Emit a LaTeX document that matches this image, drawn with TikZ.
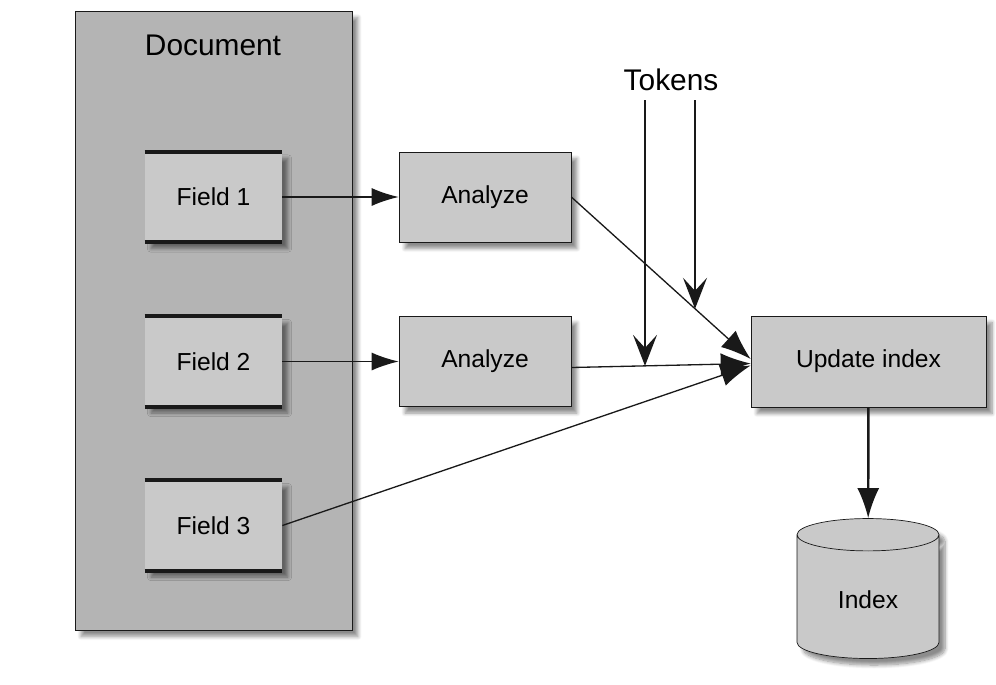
\documentclass[tikz,border=0pt]{standalone}
\usepackage{fontspec}
\setmainfont{Liberation Sans}
\usetikzlibrary{arrows.meta,shapes.geometric,shadows.blur}
\definecolor{docgray}{RGB}{180,180,180}
\definecolor{boxgray}{RGB}{201,201,201}
\definecolor{linegray}{RGB}{25,25,25}
\begin{document}
\begin{tikzpicture}[x=0.02cm, y=-0.02cm,
	shade/.style={blur shadow={shadow blur steps=8, shadow xshift=1.2mm, shadow yshift=-1.3mm, shadow opacity=45}},
	fieldbox/.style={fill=boxgray, minimum width=2.74cm, minimum height=1.8cm, inner sep=0pt, font=\fontsize{14}{16}\selectfont, shade},
	stepbox/.style={draw=linegray, fill=boxgray, minimum height=1.8cm, inner sep=0pt, font=\fontsize{14}{16}\selectfont, shade},
	conn/.style={linegray, line width=0.75pt},
	tip/.style={-{Latex[length=5.4mm, width=3.6mm]}},
	bigtip/.style={-{Latex[length=6mm, width=4.4mm]}},
	tokentip/.style={-{Stealth[length=6.2mm, width=4.8mm, inset=2.6mm]}}]
	\useasboundingbox (0,0) rectangle (996,684);
	
	%document
	\node (doc) at (213.5,320.5) [draw=linegray, fill=docgray, minimum width=5.54cm, minimum height=12.38cm, shade]{};
	\node (doclabel) at (213,45) {\fontsize{17}{20}\selectfont Document};
	
	%fields
	\node (f1) at (213.5,197) [fieldbox]{Field 1};
	\node (f2) at (213.5,361.5) [fieldbox]{Field 2};
	\node (f3) at (213.5,525.5) [fieldbox]{Field 3};
	\foreach \f in {f1, f2, f3}{
		\draw[line width=2.2pt, linegray] (\f.north west)--(\f.north east);
		\draw[line width=2.2pt, linegray] (\f.south west)--(\f.south east);
	}
	
	%steps
	\node (a1) at (485,197) [stepbox, minimum width=3.44cm]{Analyze};
	\node (a2) at (485,361.5) [stepbox, minimum width=3.44cm]{Analyze};
	\node (upd) at (868.5,361.5) [stepbox, minimum width=4.7cm, minimum height=1.82cm]{Update index};
	\node (idx) at (868,600) [cylinder, shape border rotate=90, aspect=0.45, draw=linegray, fill=boxgray, minimum width=2.84cm, minimum height=2.8cm, font=\fontsize{14}{16}\selectfont, shade]{Index};
	
	%tokens
	\node (tok) at (671,80) {\fontsize{17}{20}\selectfont Tokens};
	\coordinate (tk1) at (645,100);
	\coordinate (tk2) at (695,100);
	
	\draw[conn, tip] (f1) -- (a1);
	\draw[conn, tip] (f2) -- (a2);
	\draw[conn, bigtip] (a1.east |- 0,197) -- coordinate[pos=0.69] (hit2) ([yshift=0.05cm]upd.west);
	\draw[conn, bigtip] ([yshift=-0.12cm]a2.east) -- coordinate[pos=0.41] (hit1) ([yshift=-0.04cm]upd.west);
	\draw[conn, bigtip] (f3.east) -- ([yshift=-0.08cm]upd.west);
	\draw[conn, tokentip] (tk1) -- (tk1 |- hit1);
	\draw[conn, tokentip] (tk2) -- (tk2 |- hit2);
	\draw[linegray, line width=1.4pt, -{Latex[length=6mm, width=4.4mm]}] (upd) -- (idx);
\end{tikzpicture}
\end{document}
